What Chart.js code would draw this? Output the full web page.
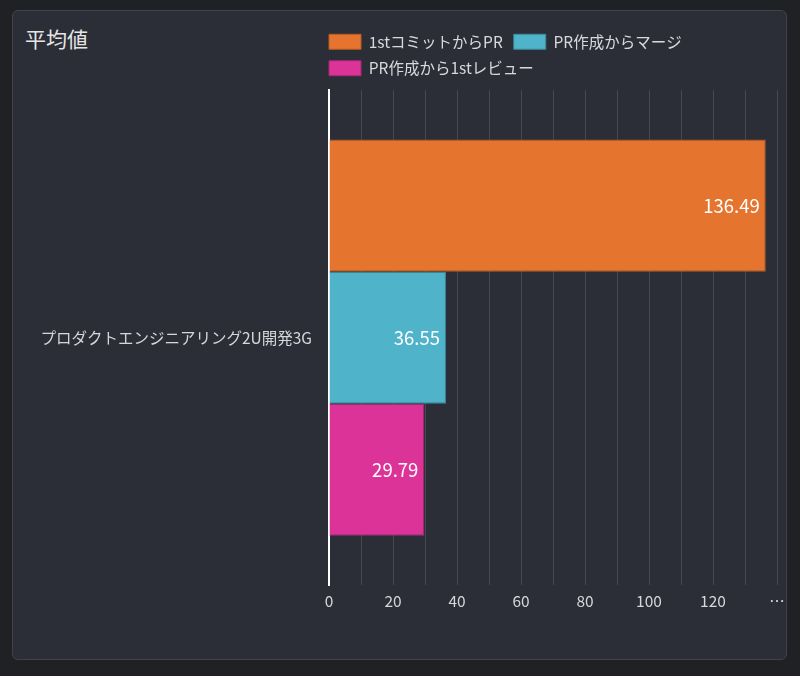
<!DOCTYPE html>
<html>
<head>
<meta charset="utf-8">
<script src="https://cdn.jsdelivr.net/npm/chart.js@4/dist/chart.umd.min.js"></script>
<style>
  html, body { margin: 0; padding: 0; background: #202125; }
  body { width: 800px; height: 676px; position: relative; overflow: hidden; }
  .panel {
    position: absolute; left: 12px; top: 10px; width: 773px; height: 648px;
    background: #2b2e36; border: 1px solid #40434a; border-radius: 6px;
  }
  .title {
    position: absolute; left: 12px; top: 12px;
    font-family: 'Noto Sans CJK JP', 'Noto Sans', sans-serif;
    font-size: 21px; color: #e6e6e6;
  }
  .wrap { position: absolute; left: 0; top: 0; width: 773px; height: 648px; }
</style>
</head>
<body>
<div class="panel">
  <div class="title">平均値</div>
  <div class="wrap"><canvas id="chart"></canvas></div>
</div>
<script>
const categories = ['プロダクトエンジニアリング2U開発3G'];
const seriesNames = ['1stコミットからPR', 'PR作成からマージ', 'PR作成から1stレビュー'];
const firstCommitToPR = [136.49];
const prToMerge = [36.55];
const prToFirstReview = [29.79];
const xTicks = [0, 20, 40, 60, 80, 100, 120];

Chart.defaults.font.family = "'Noto Sans CJK JP', 'Noto Sans', sans-serif";
Chart.defaults.color = '#d6d7da';

// 棒の右端に値を描く
const valueLabels = {
  id: 'valueLabels',
  afterDatasetsDraw(chart) {
    const ctx = chart.ctx;
    ctx.save();
    ctx.font = "18.5px 'Noto Sans CJK JP', 'Noto Sans', sans-serif";
    ctx.fillStyle = '#ffffff';
    ctx.textAlign = 'right';
    ctx.textBaseline = 'middle';
    chart.data.datasets.forEach((ds, i) => {
      chart.getDatasetMeta(i).data.forEach((bar, j) => {
        ctx.fillText(ds.data[j].toFixed(2), bar.x - 6, bar.y);
      });
    });
    ctx.restore();
  }
};

// 凡例をグラフ左端にそろえる
const legendShift = {
  id: 'legendShift',
  afterLayout(chart) {
    chart.legend.left -= 11;
    chart.legend.right -= 11;
    chart.legend.top -= 4;
    chart.legend.bottom -= 4;
  }
};

new Chart(document.getElementById('chart'), {
  type: 'bar',
  data: {
    labels: categories,
    datasets: [
      { label: seriesNames[0], data: firstCommitToPR, backgroundColor: '#e5742f', borderColor: '#b65c26', borderWidth: 1 },
      { label: seriesNames[1], data: prToMerge, backgroundColor: '#4fb3c9', borderColor: '#3d8a9c', borderWidth: 1 },
      { label: seriesNames[2], data: prToFirstReview, backgroundColor: '#dc3398', borderColor: '#a82775', borderWidth: 1 }
    ]
  },
  options: {
    indexAxis: 'y',
    responsive: true,
    maintainAspectRatio: false,
    animation: false,
    categoryPercentage: 0.8,
    barPercentage: 1.0,
    layout: { padding: { top: 16, right: 9, bottom: 43, left: 0 } },
    plugins: {
      legend: {
        position: 'top',
        align: 'start',
        fullSize: false,
        labels: { boxWidth: 32, boxHeight: 15, padding: 11, font: { size: 15.5 }, color: '#d8d9dc' }
      },
      tooltip: { enabled: false }
    },
    scales: {
      x: {
        min: 0,
        max: 140,
        ticks: {
          stepSize: 10,
          autoSkip: false,
          maxRotation: 0,
          padding: 6,
          font: { size: 15.5 },
          callback: v => xTicks.includes(v) ? v : (v === 140 ? '…' : '')
        },
        grid: { color: '#45484f', lineWidth: 1, drawTicks: false },
        border: { display: false },
        afterFit: s => { s.paddingRight = 0; }
      },
      y: {
        ticks: { padding: 17, font: { size: 15.5 } },
        grid: { display: false, drawTicks: false },
        border: { display: true, color: '#ffffff', width: 2 },
        afterFit: s => { s.width = 316; }
      }
    }
  },
  plugins: [valueLabels, legendShift]
});
</script>
</body>
</html>
